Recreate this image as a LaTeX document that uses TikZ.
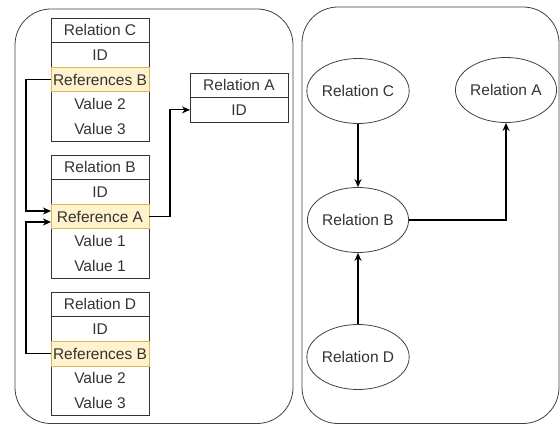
\documentclass[tikz,border=0pt]{standalone}
\usepackage{fontspec}
\setmainfont{Liberation Sans}
\usetikzlibrary{arrows.meta,shapes.geometric}
\definecolor{txt}{HTML}{333333}
\definecolor{hlfill}{HTML}{FFF2CC}
\definecolor{hldraw}{HTML}{D6B656}
\definecolor{ln}{HTML}{333333}
\begin{document}
\begin{tikzpicture}[x=1pt,y=-1pt,
  font=\fontsize{15.5}{18}\selectfont, text=txt,
  cell/.style={minimum width=98pt,minimum height=24.6pt,inner sep=0pt,anchor=north west,outer sep=0pt},
  lined/.style={cell,draw=ln,line width=0.8pt},
  hl/.style={cell,draw=hldraw,fill=hlfill,line width=0.8pt},
  plain/.style={cell},
  frame/.style={draw=ln,line width=0.8pt},
  cont/.style={draw=black!75,line width=0.8pt,rounded corners=36pt},
  ell/.style={draw=black!75,ellipse,line width=0.8pt,minimum width=100pt,minimum height=65pt,inner sep=0pt},
  arr/.style={draw=black,line width=1.2pt,-{Stealth[length=8pt,width=7pt,inset=2.5pt]}}]
\useasboundingbox (0,0) rectangle (560,425);
% containers
\draw[cont] (15,9) rectangle (293,423.5);
\draw[cont] (302,7) rectangle (559,423.5);
% Relation C
\draw[frame] (51,18) rectangle (149,141);
\node[lined] (c1) at (51,18) {Relation C};
\node[lined] (c2) at (51,42.6) {ID};
\node[hl] (c3) at (51,67.2) {References B};
\node[plain] (c4) at (51,91.8) {Value 2};
\node[plain] (c5) at (51,116.4) {Value 3};
% Relation A
\node[lined] (a1) at (190,73) {Relation A};
\node[lined] (a2) at (190,97.6) {ID};
% Relation B
\draw[frame] (51,155) rectangle (149,278);
\node[lined] (b1) at (51,155) {Relation B};
\node[lined] (b2) at (51,179.6) {ID};
\node[hl] (b3) at (51,204.2) {Reference A};
\node[plain] (b4) at (51,228.8) {Value 1};
\node[plain] (b5) at (51,253.4) {Value 1};
% Relation D
\draw[frame] (51,292) rectangle (149,415.5);
\node[lined] (d1) at (51,292) {Relation D};
\node[lined] (d2) at (51,316.7) {ID};
\node[hl] (d3) at (51,341.4) {References B};
\node[plain] (d4) at (51,366.1) {Value 2};
\node[plain] (d5) at (51,390.8) {Value 3};
% connectors left
\draw[arr] (c3.west) -- ++(-25,0) |- ([yshift=5.5pt]b3.west);
\draw[arr] (d3.west) -- ++(-25,0) |- ([yshift=-5.5pt]b3.west);
\draw[arr] (b3.east) -- ++(21,0) |- (a2.west);
% right graph
\node[ell] (eC) at (358,91) {Relation C};
\node[ell] (eA) at (506,90) {Relation A};
\node[ell] (eB) at (358,220) {Relation B};
\node[ell] (eD) at (358,357) {Relation D};
\draw[arr] (eC) -- (eB);
\draw[arr] (eD) -- (eB);
\draw[arr] (eB.east) -| (eA.south);
\end{tikzpicture}
\end{document}
